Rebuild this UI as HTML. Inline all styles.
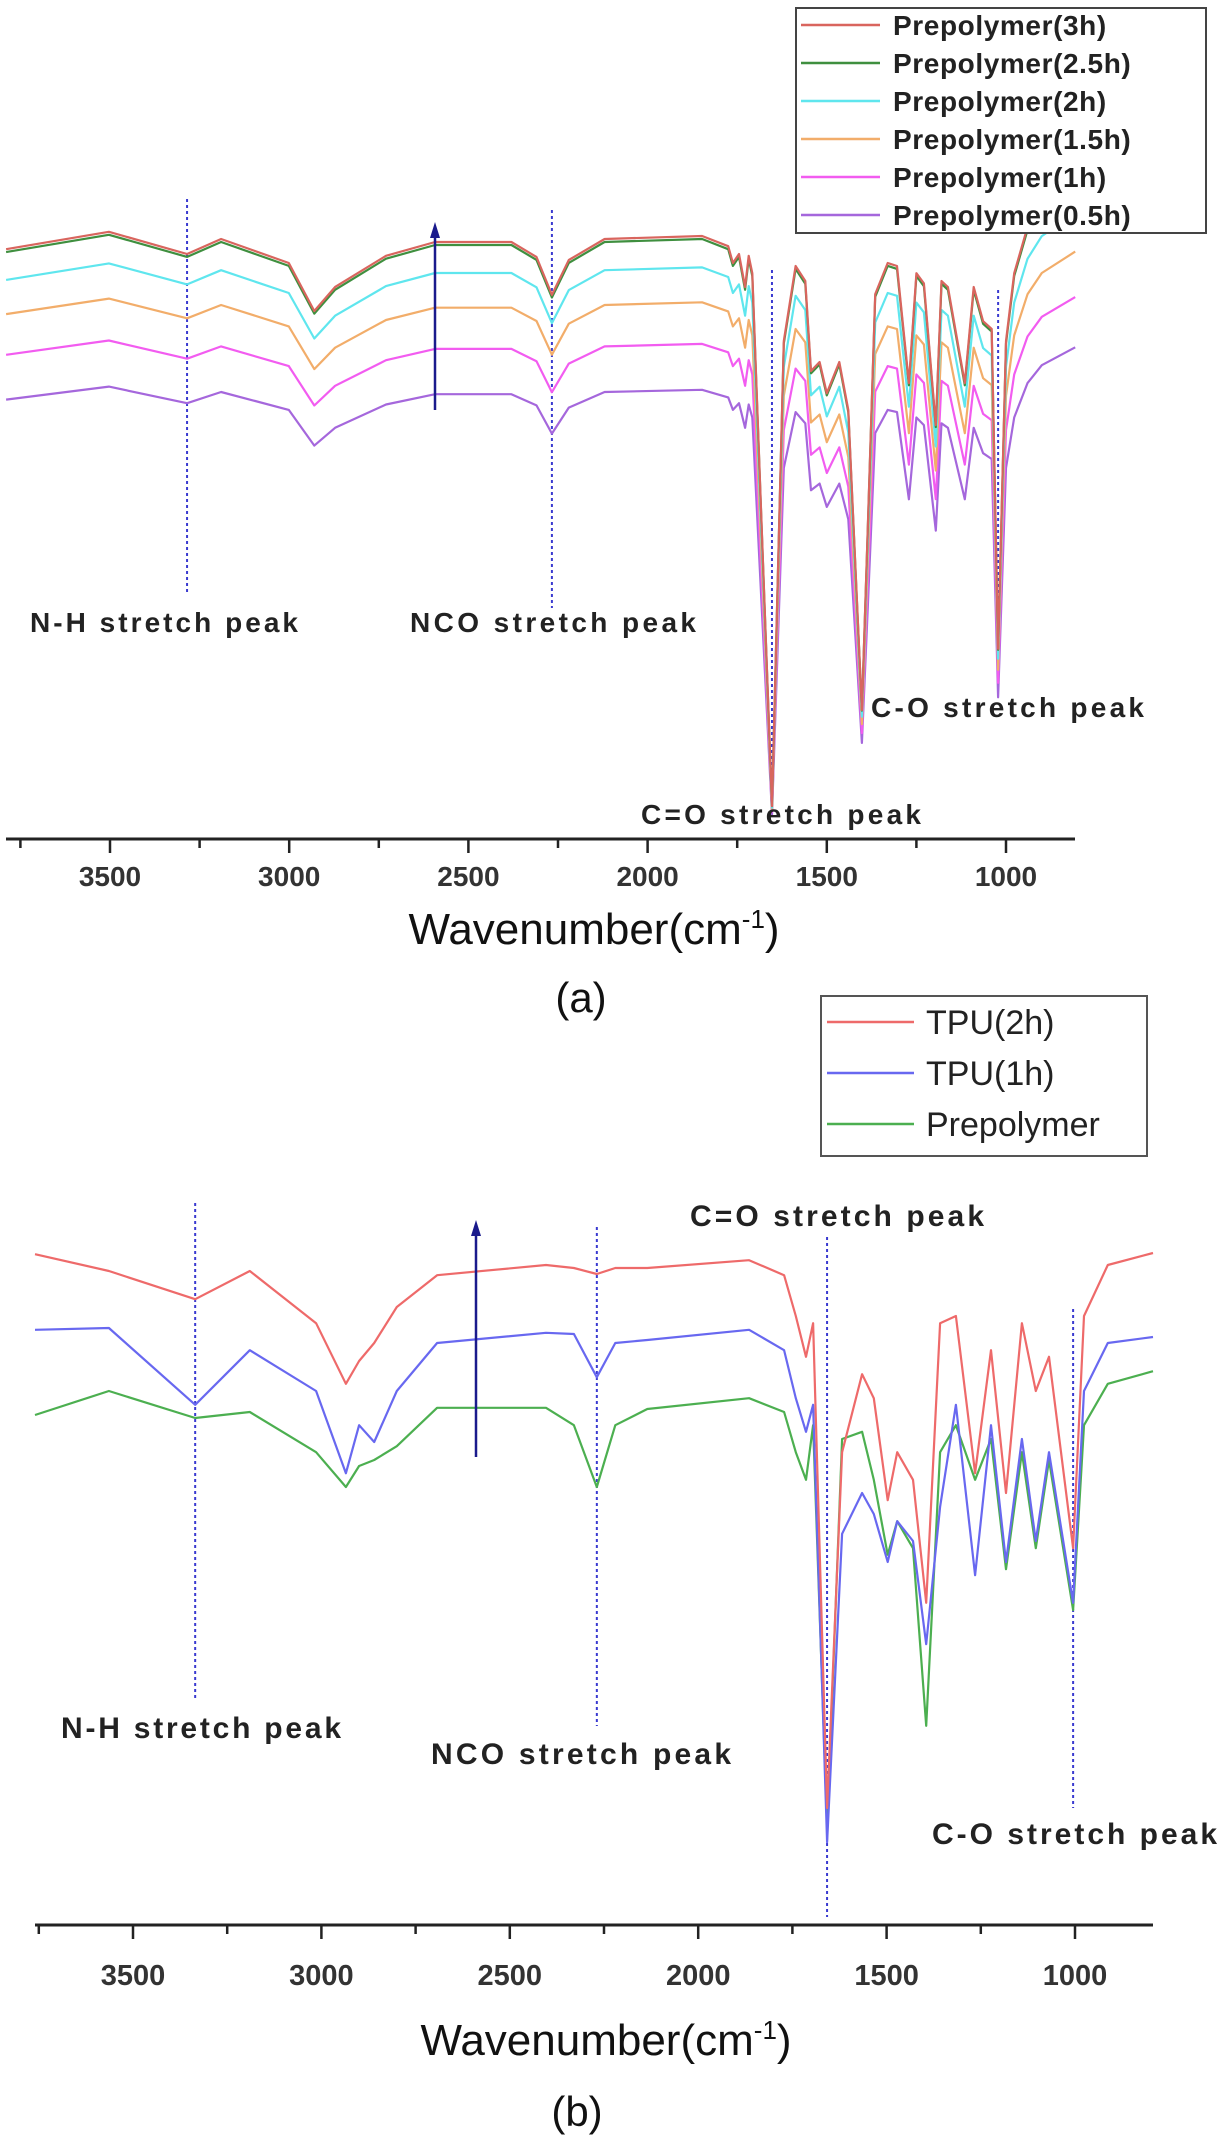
<!DOCTYPE html>
<html><head><meta charset="utf-8">
<style>
html,body{margin:0;padding:0;background:#fff;}
svg{display:block;}
text{font-family:"Liberation Sans",sans-serif;}
</style></head>
<body>
<svg id="fig" width="1228" height="2139" viewBox="0 0 1228 2139" xmlns="http://www.w3.org/2000/svg">
  <rect x="0" y="0" width="1228" height="2139" fill="#fff"/>
  <g id="panelA"></g>
  <g id="panelB"></g>
  <g>
    <g font-family="Liberation Sans, sans-serif" fill="#222" font-weight="bold">
      <text x="30" y="632" font-size="28" textLength="268">N-H stretch peak</text>
      <text x="410" y="632" font-size="28" textLength="286">NCO stretch peak</text>
      <text x="871" y="717" font-size="28" textLength="273">C-O stretch peak</text>
      <text x="641" y="824" font-size="28" textLength="280">C=O stretch peak</text>
      <text x="690" y="1226" font-size="30" textLength="294">C=O stretch peak</text>
      <text x="61" y="1738" font-size="30" textLength="280">N-H stretch peak</text>
      <text x="431" y="1764" font-size="30" textLength="300">NCO stretch peak</text>
      <text x="932" y="1844" font-size="30" textLength="285">C-O stretch peak</text>
    </g>
    <g font-family="Liberation Sans, sans-serif" fill="#111">
      <text x="594" y="944" font-size="44" text-anchor="middle">Wavenumber(cm<tspan font-size="26" dy="-16">-1</tspan><tspan dy="16">)</tspan></text>
      <text x="581" y="1012" font-size="42" text-anchor="middle">(a)</text>
      <text x="606" y="2055" font-size="44" text-anchor="middle">Wavenumber(cm<tspan font-size="26" dy="-16">-1</tspan><tspan dy="16">)</tspan></text>
      <text x="577" y="2126" font-size="42" text-anchor="middle">(b)</text>
    </g>
  </g>
</svg>
<script>
// ---------- Panel (a) data ----------
const wavenumbersA = [3790,3503,3285,3190,3001,2930,2872,2730,2593,2380,2310,2267,2220,2120,1848,1775,1762,1745,1728,1718,1708,1653,1620,1587,1560,1544,1520,1500,1465,1440,1402,1385,1365,1330,1304,1271,1250,1229,1196,1180,1162,1115,1090,1064,1040,1022,1000,977,940,900,807];
const baseSpectrumA = [98.3,101.2,97.5,100,96,88,92,97.2,99.5,99.5,97,90.7,96.5,100,100.5,98.8,96,97.5,92,97.2,94.3,5.5,83,95.5,93,78,79.5,74.3,79.5,71.5,21.5,53,90.8,96,95.5,76,94.3,92.6,69,93,92,76,92,86.3,85,31.7,83,94.3,102,106,110];
const seriesNamesA = ["Prepolymer(3h)","Prepolymer(2.5h)","Prepolymer(2h)","Prepolymer(1.5h)","Prepolymer(1h)","Prepolymer(0.5h)"];
const seriesScaleA = [1.0,0.995,0.948,0.89,0.821,0.745];
const seriesColorsA = ["#d9655e","#3f8f3f","#5fe6ee","#f2ad6a","#f25cf0","#a567dc"];
const ticksA = [3500,3000,2500,2000,1500,1000];
const minorTicksA = [3750,3250,2750,2250,1750,1250];

// ---------- Panel (b) data ----------
const wavenumbersB = [3760,3564,3335,3190,3014,2935,2900,2860,2800,2693,2404,2330,2269,2220,2135,1865,1772,1741,1714,1695,1658,1618,1565,1534,1497,1472,1430,1395,1358,1316,1265,1223,1183,1141,1104,1069,1005,976,913,793];
const tpu2hB = [111.8,109,104.3,109,100.3,90.2,94,97,103,108.3,110,109.5,108.5,109.5,109.5,110.8,108.3,101.5,94.7,100.3,19.5,78.8,91.8,87.8,70.8,78.8,74.2,53.7,100.3,101.5,75.3,95.8,72,100.3,89,94.7,62.8,101.5,110,112];
const tpu1hB = [99.2,99.5,86.7,95.8,89,75.3,83.3,80.5,89,97,98.7,98.5,91.3,97,97.5,99.2,95.8,87.8,82.2,86.7,13.8,65.2,72,68.5,60.5,67.3,64,46.8,69.7,86.7,58.3,83.3,60.5,81,64,78.8,53.7,89,97,98];
const prepolyB = [85,89,84.5,85.5,78.8,73,76.5,77.5,79.8,86.2,86.2,83.3,73,83.3,86,87.8,85.5,78.8,74.2,83.3,16.2,81,82.2,74.2,61.7,67.3,62.8,33.2,78.8,83.3,74.2,81,59.3,78.8,62.8,77.5,52.5,83.3,90.2,92.3];
const seriesNamesB = ["TPU(2h)","TPU(1h)","Prepolymer"];
const seriesColorsB = ["#ee6a6a","#6868f0","#4caf50"];
const ticksB = [3500,3000,2500,2000,1500,1000];
const minorTicksB = [3750,3250,2750,2250,1750,1250];

const NS = "http://www.w3.org/2000/svg";
function mk(tag, attrs, parent){
  const e = document.createElementNS(NS, tag);
  for (const k in attrs) e.setAttribute(k, attrs[k]);
  parent.appendChild(e);
  return e;
}
const xA = w => 110 + (3500 - w) * 0.3584;
const yA = v => 839 - v * 6;
const xB = w => 133 + (3500 - w) * 0.3768;
const yB = v => 1925 - v * 6;

const gA = document.getElementById('panelA');
const gB = document.getElementById('panelB');

function arrow(g, x, y1, y2, name){
  const l = mk('line',{x1:x,x2:x,y1:y1,y2:y2+12,stroke:'#1a1a8c','stroke-width':2.5},g);
  
  
  const h = mk('polygon',{points:`${x-5},${y2+16} ${x},${y2} ${x+5},${y2+16}`,fill:'#1a1a8c'},g);
  
  
}

// ===== Panel (a) =====
[[3285,199,594,'nh-marker-a'],[2267,210,608,'nco-marker-a'],[1653,270,806,'co-double-marker-a'],[1022,290,686,'c-o-marker-a']].forEach(d=>{
  const l = mk('line',{x1:xA(d[0]),x2:xA(d[0]),y1:d[1],y2:d[2],stroke:'#3a3ad0','stroke-width':2,'stroke-dasharray':'3,3'},gA);
  
  
});
for (let s = seriesNamesA.length - 1; s >= 0; s--) {
  const pts = wavenumbersA.map((w,i)=> xA(w).toFixed(1)+','+yA(baseSpectrumA[i]*seriesScaleA[s]).toFixed(1)).join(' ');
  const pl = mk('polyline',{points:pts,fill:'none',stroke:seriesColorsA[s],'stroke-width':2.2,'stroke-linejoin':'round'},gA);
  
  
}
arrow(gA, 435, 410, 222, 'trend-arrow-a');
const axA = mk('line',{x1:6,x2:1075,y1:839,y2:839,stroke:'#222','stroke-width':3},gA);


ticksA.forEach(t=>{
  const tk = mk('line',{x1:xA(t),x2:xA(t),y1:839,y2:853,stroke:'#222','stroke-width':2.5},gA);
  
  
  const tl = mk('text',{x:xA(t),y:886,'text-anchor':'middle','font-size':28,'font-weight':'bold',fill:'#333'},gA);
  tl.textContent = t;
  
  
});
minorTicksA.forEach(t=>{
  const tk = mk('line',{x1:xA(t),x2:xA(t),y1:839,y2:848,stroke:'#222','stroke-width':2.5},gA);
  
  
});
const lgA = mk('rect',{x:796,y:8,width:410,height:225,fill:'#fff',stroke:'#444','stroke-width':2},gA);


seriesNamesA.forEach((n,i)=>{
  const y = 25 + i*38;
  const l = mk('line',{x1:801,x2:880,y1:y,y2:y,stroke:seriesColorsA[i],'stroke-width':2.5},gA);
  
  
  const t = mk('text',{x:893,y:y+10,'font-size':28,'font-weight':'bold','letter-spacing':'0.6',fill:'#222'},gA);
  t.textContent = n;
  
  
});

// ===== Panel (b) =====
[[3335,1203,1698,'nh-marker-b'],[2269,1227,1726,'nco-marker-b'],[1658,1237,1917,'co-double-marker-b'],[1005,1309,1808,'c-o-marker-b']].forEach(d=>{
  const l = mk('line',{x1:xB(d[0]),x2:xB(d[0]),y1:d[1],y2:d[2],stroke:'#3a3ad0','stroke-width':2,'stroke-dasharray':'3,3'},gB);
  
  
});
const seriesB = [tpu2hB, tpu1hB, prepolyB];
for (let s = seriesB.length - 1; s >= 0; s--) {
  const pts = wavenumbersB.map((w,i)=> xB(w).toFixed(1)+','+yB(seriesB[s][i]).toFixed(1)).join(' ');
  const pl = mk('polyline',{points:pts,fill:'none',stroke:seriesColorsB[s],'stroke-width':2.2,'stroke-linejoin':'round'},gB);
  
  
}
arrow(gB, 476, 1457, 1220, 'trend-arrow-b');
const axB = mk('line',{x1:35,x2:1153,y1:1925,y2:1925,stroke:'#222','stroke-width':3},gB);


ticksB.forEach(t=>{
  const tk = mk('line',{x1:xB(t),x2:xB(t),y1:1925,y2:1939,stroke:'#222','stroke-width':2.5},gB);
  
  
  const tl = mk('text',{x:xB(t),y:1985,'text-anchor':'middle','font-size':29,'font-weight':'bold',fill:'#333'},gB);
  tl.textContent = t;
  
  
});
minorTicksB.forEach(t=>{
  const tk = mk('line',{x1:xB(t),x2:xB(t),y1:1925,y2:1934,stroke:'#222','stroke-width':2.5},gB);
  
  
});
const lgB = mk('rect',{x:821,y:996,width:326,height:160,fill:'#fff',stroke:'#555','stroke-width':2},gB);


seriesNamesB.forEach((n,i)=>{
  const y = 1022 + i*51;
  const l = mk('line',{x1:827,x2:914,y1:y,y2:y,stroke:seriesColorsB[i],'stroke-width':2.5},gB);
  
  
  const t = mk('text',{x:926,y:y+12,'font-size':34,fill:'#222'},gB);
  t.textContent = n;
  
  
});
</script>
</body></html>
